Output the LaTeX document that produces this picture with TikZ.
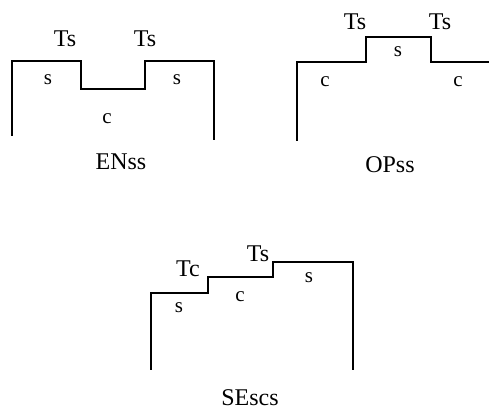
\documentclass[tikz,border=0pt]{standalone}
\usepackage{fontspec}
\setmainfont{Liberation Serif}
\begin{document}
\begin{tikzpicture}[x=1pt,y=-1pt,
  profile/.style={line width=1.7pt, line join=miter},
  lbl/.style={inner sep=0pt, font=\fontsize{24}{28}\selectfont},
  small/.style={inner sep=0pt, font=\fontsize{21}{24}\selectfont}]
\useasboundingbox (0,0) rectangle (491,411);

% ENss: two surface sites around a lowered centre
\draw[profile] (12,136) -- (12,61) -- (81,61) -- (81,89) -- (145,89) -- (145,61) -- (214,61) -- (214,140);
\node[lbl] (en-t1) at (65,39) {Ts};
\node[lbl] (en-t2) at (145,39) {Ts};
\node[small] (en-s1) at (48,80) {s};
\node[small] (en-s2) at (177,80) {s};
\node[small] (en-c) at (107,119) {c};
\node[lbl] (en-name) at (121,162) {ENss};

% OPss: raised surface site between two centres
\draw[profile] (297,141) -- (297,62) -- (366,62) -- (366,37) -- (431,37) -- (431,62) -- (489,62);
\node[lbl] (op-t1) at (355,22) {Ts};
\node[lbl] (op-t2) at (440,22) {Ts};
\node[small] (op-s) at (398,52) {s};
\node[small] (op-c1) at (325,82) {c};
\node[small] (op-c2) at (458,82) {c};
\node[lbl] (op-name) at (390,165) {OPss};

% SEscs: staircase of surface, centre and surface sites
\draw[profile] (151,370) -- (151,293) -- (208,293) -- (208,277) -- (273,277) -- (273,262) -- (353,262) -- (353,370);
\node[lbl] (se-tc) at (188,269) {Tc};
\node[lbl] (se-ts) at (258,254) {Ts};
\node[small] (se-s1) at (179,308) {s};
\node[small] (se-c) at (240,297) {c};
\node[small] (se-s2) at (309,278) {s};
\node[lbl] (se-name) at (250,398) {SEscs};
\end{tikzpicture}
\end{document}
